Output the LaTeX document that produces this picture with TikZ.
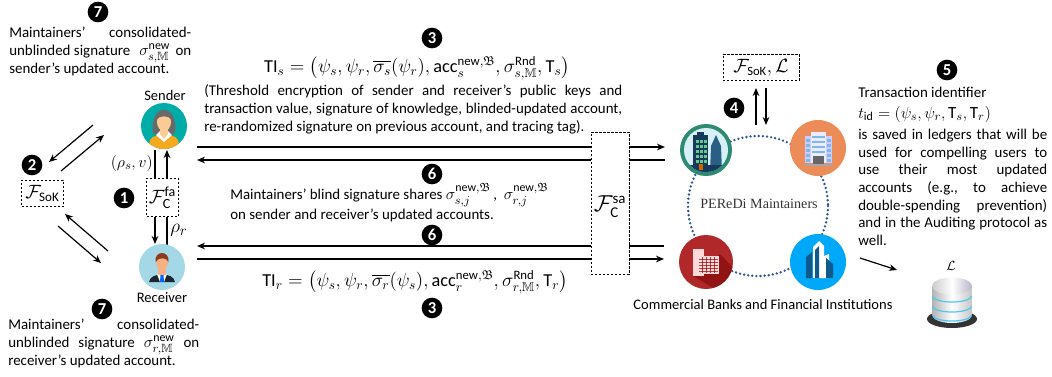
\documentclass[tikz,border=0pt]{standalone}
\usepackage{amsmath,amssymb}
\usepackage{fontspec}
\setmainfont{Carlito}
\setsansfont{Carlito}
\newfontfamily\perfont{Liberation Serif}
\usetikzlibrary{arrows.meta}
\newdimen\pxu \pxu=0.75pt
\newcommand{\jl}[2]{\hbox to #1\pxu{#2}}
\newcommand{\stx}[1]{\text{#1}}
\newcommand{\mthbig}[1]{{\fontsize{12.8}{13.3}\selectfont$#1$}}
\definecolor{dotblue}{HTML}{2F5597}
\definecolor{hairg}{HTML}{696969}
\definecolor{skinf}{HTML}{FBCB96}
\definecolor{skinm}{HTML}{F5B183}
\definecolor{bodyo}{HTML}{F4A91F}
\definecolor{hairm}{HTML}{8B3A1E}
\definecolor{suit}{HTML}{1B2630}
\definecolor{navy}{HTML}{17395C}
\definecolor{blu2}{HTML}{2A5F85}
\definecolor{grn}{HTML}{63CC8C}
\definecolor{wina}{HTML}{7FB7E8}
\definecolor{navy2}{HTML}{0F5A8C}
\tikzset{
  txt/.style={inner sep=0pt,anchor=north west,align=left,font=\fontsize{11.2}{13.3}\selectfont},
  lab/.style={inner sep=0pt,font=\fontsize{10.9}{13.3}\selectfont},
  mth/.style={inner sep=0pt,font=\fontsize{13.7}{14}\selectfont},
  fbig/.style={inner sep=0pt},
  bullet/.style={circle,fill=black,text=white,minimum size=15.5pt,inner sep=0pt,font=\fontsize{12.5}{12}\selectfont\bfseries},
  dbox/.style={draw,dashed,line width=0.6pt,fill=white,inner sep=0pt,dash pattern=on 1.8pt off 1.2pt},
  arr/.style={line width=0.9pt,-{Stealth[length=6pt,width=5pt]}},
  pln/.style={line width=0.9pt},
  rim/.style={line width=2pt,draw=dotblue,line cap=round,dash pattern=on 0pt off 3.1pt},
}
\begin{document}
\lineskiplimit=-30pt
\begin{tikzpicture}[x=0.75pt,y=-0.75pt]
\useasboundingbox (0,0) rectangle (1052,376);
% ---- coordinates for connector ends
\coordinate (t1a) at (197,147); \coordinate (t1b) at (665,147);
\coordinate (t2a) at (665,160); \coordinate (t2b) at (197,160);
\coordinate (b1a) at (664,246); \coordinate (b1b) at (197,246);
\coordinate (b2a) at (197,259); \coordinate (b2b) at (664,259);
\coordinate (sk1a) at (93,125); \coordinate (sk1b) at (49,162);
\coordinate (sk2a) at (61,171); \coordinate (sk2b) at (104,135);
\coordinate (sk3a) at (108,251); \coordinate (sk3b) at (65,214);
\coordinate (sk4a) at (58,226); \coordinate (sk4b) at (101,263);
\coordinate (u1a) at (155,150); \coordinate (u1b) at (155,178);
\coordinate (u2a) at (167,178); \coordinate (u2b) at (167,150);
\coordinate (u3a) at (155,217); \coordinate (u3b) at (155,244);
\coordinate (u4a) at (167,217); \coordinate (u4b) at (167,245);
\coordinate (l1a) at (756,125); \coordinate (l1b) at (756,88);
\coordinate (l2a) at (766,88); \coordinate (l2b) at (766,125);
\coordinate (dba) at (860,258); \coordinate (dbb) at (897,270);
% ---- horizontal connectors (behind the F_sa box)
\draw[arr] (t1a) -- (t1b);
\draw[arr] (t2a) -- (t2b);
\draw[arr] (b1a) -- (b1b);
\draw[arr] (b2a) -- (b2b);
\node[dbox,minimum width=28.5pt,minimum height=107pt] (fsa) at (610,203.5) {};
\node[fbig,font=\fontsize{16}{17}\selectfont] (fsalab) at (610,207) {$\mathcal{F}^{\stx{sa}}_{\stx{C}}$};
% ---- F_fa and F_SoK boxes
\node[dbox,minimum width=23.5pt,minimum height=29pt] (ffa) at (162.5,197.5) {};
\node[fbig,font=\fontsize{15}{16}\selectfont] (ffalab) at (162.5,198) {$\mathcal{F}^{\stx{fa}}_{\stx{C}}$};
\node[dbox,minimum width=31pt,minimum height=20pt,font=\fontsize{14}{15}\selectfont] (fsok) at (42.5,193.5) {$\mathcal{F}_{\stx{SoK}}$};
\node[dbox,minimum width=57pt,minimum height=20pt,font=\fontsize{13.5}{15}\selectfont] (fl) at (761,67.5) {$\mathcal{F}_{\stx{SoK}},\mathcal{L}$};
% ---- connectors
\draw[arr] (sk1a) -- (sk1b);
\draw[arr] (sk2a) -- (sk2b);
\draw[arr] (sk3a) -- (sk3b);
\draw[arr] (sk4a) -- (sk4b);
\draw[pln] (u1a) -- (u1b);
\draw[arr] (u2a) -- (u2b);
\draw[arr] (u3a) -- (u3b);
\draw[pln] (u4a) -- (u4b);
\draw[arr] (l1a) -- (l1b);
\draw[arr] (l2a) -- (l2b);
\draw[arr] (dba) -- (dbb);
% ---- Sender
\node[circle,fill={rgb,255:red,0;green,172;blue,168},minimum size=34.5pt,inner sep=0pt] (sender) at (164,126) {};
\begin{scope}
\clip (164,126) circle [radius=23];
\fill[hairg] (153,133) .. controls (149,102) and (179,102) .. (175,133) -- (170,136) -- (158,136) -- cycle;
\fill[bodyo] (148,150) -- (150,140) .. controls (152,136) and (158,135) .. (164,134) .. controls (170,135) and (176,136) .. (178,140) -- (180,150) -- cycle;
\fill[white] (156,135) -- (164,142) -- (172,135) -- (168,131) -- (160,131) -- cycle;
\fill[skinf] (160,128) -- (168,128) -- (168,134) -- (164,139) -- (160,134) -- cycle;
\fill[skinf] (164,122) ellipse [x radius=7,y radius=9];
\fill[hairg] (156,120) .. controls (158,110) and (170,110) .. (172,120) .. controls (168,115) and (160,115) .. (156,120) -- cycle;
\end{scope}
\node[lab] (senderlab) at (165,95) {Sender};
% ---- Receiver
\node[circle,fill={rgb,255:red,165;green,216;blue,230},minimum size=34.5pt,inner sep=0pt] (receiver) at (162,267) {};
\begin{scope}
\clip (162,267) circle [radius=23];
\fill[suit] (149,282) .. controls (150,276) and (156,275) .. (162,274) .. controls (168,275) and (174,276) .. (175,282) -- cycle;
\fill[white] (157,274) -- (167,274) -- (164,282) -- (160,282) -- cycle;
\fill[blue!60!cyan] (160.5,275) -- (163.5,275) -- (164,282) -- (160,282) -- cycle;
\fill[skinm] (158,268) rectangle (166,275);
\fill[skinm] (162,262) ellipse [x radius=6,y radius=8];
\fill[hairm] (155.5,262) .. controls (154,250) and (170,250) .. (168.5,262) .. controls (167,257) and (158,257) .. cycle;
\end{scope}
\node[lab] (receiverlab) at (162,298) {Receiver};
% ---- maintainers ring
\draw[rim] (758,206) circle [radius=70];
\node[circle,fill={rgb,255:red,47;green,138;blue,114},minimum size=39pt,inner sep=0pt] (m1) at (706,150) {};
\node[circle,fill={rgb,255:red,215;green,240;blue,248},minimum size=33pt,inner sep=0pt] (m1in) at (706,150) {};
\begin{scope}
\clip (706,150) circle [radius=22];
\fill[navy] (693,135) rectangle (708,172);
\fill[navy] (697,132) rectangle (704,136);
\fill[blu2] (711,146) -- (716,135) -- (721,146) -- (722,172) -- (710,172) -- cycle;
\foreach \cx in {696,700,704}{\foreach \cy in {140,145,150,155,160}{\fill[grn] (\cx,\cy) rectangle +(3,3.4);}}
\fill[navy] (686,165) rectangle (726,174);
\fill[orange!80!black] (699,164) rectangle (703,170);
\end{scope}
\node[circle,fill={rgb,255:red,236;green,140;blue,88},minimum size=42pt,inner sep=0pt] (m2) at (818,148) {};
\fill[blue!20!white] (805,136) rectangle (832,163);
\fill[blue!8!white] (811,132) rectangle (826,163);
\foreach \cy in {136,141,146,151}{\fill[wina] (812,\cy) rectangle (825,\cy+2);}
\foreach \cy in {139,144,149,154,159}{\fill[wina] (806,\cy) rectangle (810,\cy+3);\fill[wina] (827,\cy) rectangle (831,\cy+3);}
\fill[gray!80!black] (813,156) rectangle (824,164);
\fill[gray!70] (804,164) rectangle (833,166);
\node[circle,fill={rgb,255:red,176;green,40;blue,42},minimum size=40.5pt,inner sep=0pt] (m3) at (706,262) {};
\begin{scope}
\clip (706,262) circle [radius=27];
\fill[red!45!black,opacity=.5] (693,276) -- (720,254) -- (740,275) -- (720,292) -- cycle;
\fill[white!85!red] (693,249) rectangle (704,276);
\fill[white!85!red] (698,256) rectangle (719,274);
\foreach \cy in {259,262,265,268,271}{\fill[red!60!black,opacity=.7] (699,\cy) rectangle (718,\cy+1);}
\foreach \cx in {702,706,710,714}{\fill[red!60!black,opacity=.7] (\cx,257) rectangle (\cx+1,273);}
\end{scope}
\node[circle,fill={rgb,255:red,0;green,168;blue,250},minimum size=42pt,inner sep=0pt] (m4) at (818,262) {};
\fill[navy2] (806,278) -- (806,257) -- (812,252) -- (812,278) -- cycle;
\fill[white] (813,278) -- (813,247) -- (819,241) -- (824,246) -- (824,278) -- cycle;
\fill[navy2] (815,278) -- (815,250) -- (819,246) -- (819,278) -- cycle;
\fill[white] (824,278) -- (824,256) -- (829,254) -- (829,278) -- cycle;
\fill[navy2] (826,278) -- (826,258) -- (833,264) -- (833,278) -- cycle;
\node[inner sep=0pt,font=\perfont\fontsize{10.6}{12}\selectfont,text=black!80] (pered) at (759,204) {PEReDi Maintainers};
\node[lab] (banks) at (763,304) {Commercial Banks and Financial Institutions};
% ---- ledger
\node[inner sep=0pt,font=\fontsize{10}{12}\selectfont] (lsym) at (951,266) {$\mathcal{L}$};
\fill[black!80] (952,319) ellipse [x radius=25,y radius=9];
\shade[left color=gray!60,right color=gray!45,middle color=white] (932,286) -- (932,315) arc [start angle=180,end angle=360,x radius=20,y radius=-8] -- (972,286) -- cycle;
\shade[left color=gray!40,right color=blue!15!gray!50,middle color=white] (952,286) ellipse [x radius=20,y radius=8.5];
\foreach \cy in {296,306,315}{\draw[cyan!70!white,line width=0.9pt] (932.5,\cy) arc [start angle=180,end angle=360,x radius=19.5,y radius=-6];}
% ---- texts
\node[bullet] (n7a) at (98,12) {7};
\node[txt] (txt7a) at (9,27) {\jl{182}{Maintainers'\hfill consolidated-}\\
\jl{182}{unblinded signature \hfill\mthbig{\sigma^{\stx{new}}_{s,\mathbb{M}}}\hfill on}\\
sender's updated account.};
\node[bullet] (n7b) at (102,309) {7};
\node[txt] (txt7b) at (8,319) {\jl{191}{Maintainers'\hfill consolidated-}\\
\jl{191}{unblinded\hfill signature\hfill\mthbig{\sigma^{\stx{new}}_{r,\mathbb{M}}}\hfill on}\\
receiver's updated account.};
\node[bullet] (n2) at (32,165) {2};
\node[bullet] (n1) at (124,198) {1};
\node[mth,anchor=east,font=\fontsize{12.6}{14}\selectfont] (rhos) at (153,163) {$(\rho_s,v)$};
\node[fbig,anchor=west,font=\fontsize{15}{16}\selectfont] (rhor) at (170,230) {$\rho_r$};
\node[bullet] (n3a) at (432,38) {3};
\node[mth] (tis) at (417,68) {$\stx{TI}_s=\bigl(\psi_s,\psi_r,\overline{\sigma_s}(\psi_r),\stx{acc}^{\stx{new},\mathfrak{B}}_s,\sigma^{\stx{Rnd}}_{s,\mathbb{M}},\stx{T}_s\bigr)$};
\node[txt] (para) at (204,84.5) {\jl{418}{(Threshold encryption of sender and receiver's public keys and}\\
\jl{418}{transaction value, signature of knowledge, blinded-updated account,}\\
re-randomized signature on previous account, and tracing tag).};
\node[bullet] (n6a) at (432,174) {6};
\node[txt] (blind) at (230,183) {Maintainers' blind signature shares \mthbig{\sigma^{\stx{new},\mathfrak{B}}_{s,j}}\,,\ \ \mthbig{\sigma^{\stx{new},\mathfrak{B}}_{r,j}}\\[1.5pt]
on sender and receiver's updated accounts.};
\node[bullet] (n6b) at (432,235) {6};
\node[mth] (tir) at (415,282) {$\stx{TI}_r=\bigl(\psi_s,\psi_r,\overline{\sigma_r}(\psi_s),\stx{acc}^{\stx{new},\mathfrak{B}}_r,\sigma^{\stx{Rnd}}_{r,\mathbb{M}},\stx{T}_r\bigr)$};
\node[bullet] (n3b) at (432,308) {3};
\node[bullet] (n4) at (734,108) {4};
\node[bullet] (n5) at (947,70) {5};
\node[txt] (tx5) at (858,86.5) {Transaction identifier\\[2.5pt]
\mthbig{t_{\stx{id}}=(\psi_s,\psi_r,\stx{T}_s,\stx{T}_r)}\\[2.5pt]
\jl{189}{is saved in ledgers that will be}\\
\jl{189}{used for compelling users to}\\
\jl{189}{use\hfill their\hfill most\hfill updated}\\
\jl{189}{accounts\hfill (e.g.,\hfill to\hfill achieve}\\
\jl{189}{double-spending\hfill prevention)}\\
\jl{189}{and in the Auditing protocol as}\\
well.};
\end{tikzpicture}
\end{document}
